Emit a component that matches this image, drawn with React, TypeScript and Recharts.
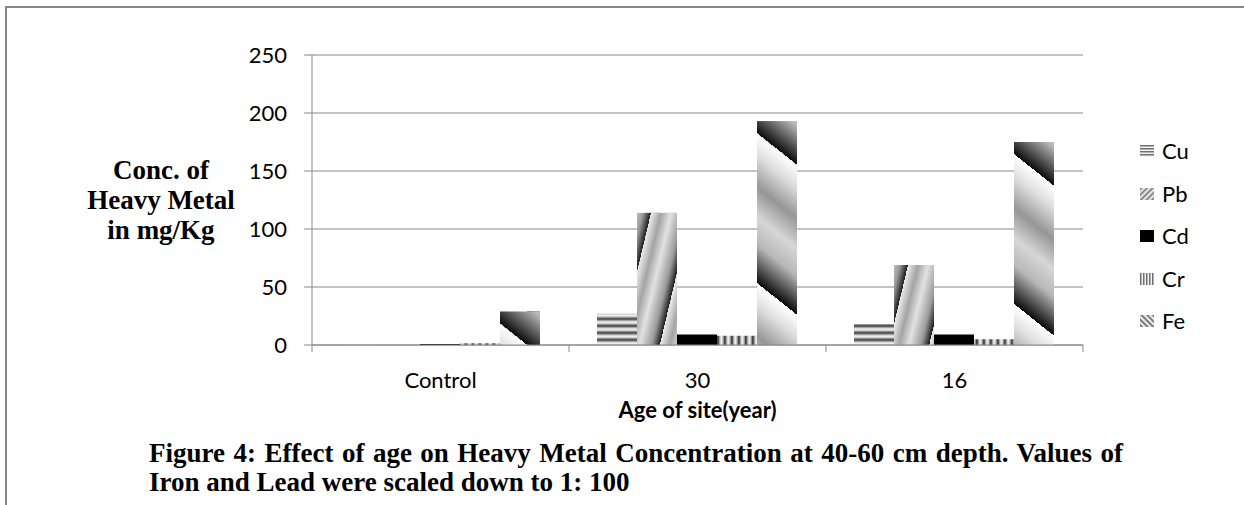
import React from 'react';
import { BarChart, Bar, XAxis, YAxis, CartesianGrid, Legend, Label } from 'recharts';

const ages = ['Control', '30', '16'];
const cuValues = [0.8, 27, 18];
const pbValues = [0, 114, 69];
const cdValues = [0.8, 9, 9];
const crValues = [1.5, 8, 5];
const feValues = [29, 193, 175];
const yTicks = [0, 50, 100, 150, 200, 250];

const metals = [
  { key: 'Cu', values: cuValues, fill: 'url(#cuFill)', icon: 'url(#cuIcon)' },
  { key: 'Pb', values: pbValues, fill: 'url(#pbFill)', icon: 'url(#pbIcon)' },
  { key: 'Cd', values: cdValues, fill: '#000000', icon: '#000000' },
  { key: 'Cr', values: crValues, fill: 'url(#crFill)', icon: 'url(#crIcon)' },
  { key: 'Fe', values: feValues, fill: 'url(#feFill)', icon: 'url(#feIcon)' },
];

const data = ages.map((age, i) => {
  const row: Record<string, string | number> = { age };
  metals.forEach((m) => {
    row[m.key] = m.values[i];
  });
  return row;
});

const axisGray = '#878787';
const sans = 'Lato, "Noto Sans", sans-serif';
const serif = '"Liberation Serif", "Times New Roman", serif';

// tick text in the middle of the band, tick mark on the band edges (Excel style)
const AgeTick = (props: any) => {
  const { x, y, payload, index } = props;
  const half = payload?.offset ?? 0;
  const last = index === ages.length - 1;
  return (
    <g>
      <line x1={x - half} y1={y} x2={x - half} y2={y + 7} stroke={axisGray} />
      {last && <line x1={x + half} y1={y} x2={x + half} y2={y + 7} stroke={axisGray} />}
      <text x={x} y={y + 27} dy="0.71em" textAnchor="middle" fontFamily={sans} fontSize={22} fill="#000">
        {payload.value}
      </text>
    </g>
  );
};

// keep series order (recharts sorts legend items by name otherwise)
const MetalLegend = ({ payload }: any) => {
  const items = payload || [];
  return (
    <div style={{ fontFamily: sans, fontSize: 22, color: '#000' }}>
      {metals.map((m) => {
        const entry = items.find((p: any) => p.value === m.key);
        if (!entry) return null;
        return (
          <div key={m.key} style={{ height: 42.5, display: 'flex', alignItems: 'center' }}>
            <svg width={14} height={12} style={{ display: 'block' }}>
              <rect width={14} height={12} fill={m.icon} />
            </svg>
            <span style={{ marginLeft: 8, lineHeight: '22px' }}>{entry.value}</span>
          </div>
        );
      })}
    </div>
  );
};

const YTitle = ({ viewBox }: any) => {
  const cx = viewBox.x - 91;
  return (
    <text textAnchor="middle" fontFamily={serif} fontWeight="bold" fontSize={27} fill="#000">
      <tspan x={cx} y={viewBox.y + 124}>Conc. of</tspan>
      <tspan x={cx} y={viewBox.y + 154}>Heavy Metal</tspan>
      <tspan x={cx} y={viewBox.y + 184}>in mg/Kg</tspan>
    </text>
  );
};

const XTitle = ({ viewBox }: any) => (
  <text
    x={viewBox.x + viewBox.width / 2}
    y={viewBox.y + 73}
    textAnchor="middle"
    fontFamily={sans}
    fontWeight="bold"
    fontSize={22}
    fill="#000"
  >
    Age of site(year)
  </text>
);

export default function App() {
  return (
    <div style={{ position: 'absolute', left: 0, top: 0, width: 1244, height: 505, overflow: 'hidden', background: '#fff' }}>
      <div
        style={{
          position: 'absolute',
          left: 5,
          top: 6,
          width: 1300,
          height: 600,
          borderLeft: `2px solid ${axisGray}`,
          borderTop: `2px solid ${axisGray}`,
        }}
      />
      <div style={{ position: 'absolute', left: 0, top: 0 }}>
        <BarChart
          width={1244}
          height={430}
          data={data}
          margin={{ top: 55, right: 161, bottom: 0, left: 252 }}
          barCategoryGap={28}
          barGap={0}
        >
          <defs>
            <linearGradient id="cuGrad" x1="0" y1="0" x2="0" y2="1">
              <stop offset="0" stopColor="#ffffff" />
              <stop offset="0.3" stopColor="#b4b4b4" />
              <stop offset="0.55" stopColor="#3a3a3a" />
              <stop offset="0.78" stopColor="#a0a0a0" />
              <stop offset="1" stopColor="#f2f2f2" />
            </linearGradient>
            <pattern id="cuFill" patternUnits="userSpaceOnUse" width="8" height="7">
              <rect width="8" height="7" fill="url(#cuGrad)" />
            </pattern>
            <linearGradient id="crGrad" x1="0" y1="0" x2="1" y2="0">
              <stop offset="0" stopColor="#ffffff" />
              <stop offset="0.3" stopColor="#b4b4b4" />
              <stop offset="0.55" stopColor="#2a2a2a" />
              <stop offset="0.78" stopColor="#a0a0a0" />
              <stop offset="1" stopColor="#f2f2f2" />
            </linearGradient>
            <pattern id="crFill" patternUnits="userSpaceOnUse" width="7" height="8">
              <rect width="7" height="8" fill="url(#crGrad)" />
            </pattern>
            <linearGradient id="pbGrad" gradientUnits="userSpaceOnUse" spreadMethod="repeat" x1="14" y1="0" x2="52" y2="9">
              <stop offset="0" stopColor="#ececec" />
              <stop offset="0.25" stopColor="#a4a4a4" />
              <stop offset="0.5" stopColor="#e2e2e2" />
              <stop offset="0.8" stopColor="#9a9a9a" />
              <stop offset="1" stopColor="#1c1c1c" />
            </linearGradient>
            <pattern id="pbFill" patternUnits="objectBoundingBox" x="0" y="0" width="1" height="1">
              <rect x="-10" y="-10" width="80" height="400" fill="url(#pbGrad)" />
            </pattern>
            <linearGradient id="feGrad" gradientUnits="userSpaceOnUse" spreadMethod="repeat" x1="0" y1="12" x2="-73" y2="104">
              <stop offset="0" stopColor="#ffffff" />
              <stop offset="0.15" stopColor="#dedede" />
              <stop offset="0.36" stopColor="#969696" />
              <stop offset="0.56" stopColor="#d6d6d6" />
              <stop offset="0.74" stopColor="#b8b8b8" />
              <stop offset="0.92" stopColor="#404040" />
              <stop offset="1" stopColor="#0a0a0a" />
            </linearGradient>
            <pattern id="feFill" patternUnits="objectBoundingBox" x="0" y="0" width="1" height="1">
              <rect x="-10" y="-10" width="80" height="400" fill="url(#feGrad)" />
            </pattern>
            <pattern id="cuIcon" patternUnits="userSpaceOnUse" width="4" height="3">
              <rect width="4" height="3" fill="#f4f4f4" />
              <rect width="4" height="1.5" fill="#6e6e6e" />
            </pattern>
            <pattern id="crIcon" patternUnits="userSpaceOnUse" width="3" height="4">
              <rect width="3" height="4" fill="#f4f4f4" />
              <rect width="1.5" height="4" fill="#6e6e6e" />
            </pattern>
            <pattern id="pbIcon" patternUnits="userSpaceOnUse" width="4" height="4" patternTransform="rotate(45)">
              <rect width="4" height="4" fill="#e4e4e4" />
              <rect width="2" height="4" fill="#8c8c8c" />
            </pattern>
            <pattern id="feIcon" patternUnits="userSpaceOnUse" width="4" height="4" patternTransform="rotate(-45)">
              <rect width="4" height="4" fill="#ececec" />
              <rect width="2" height="4" fill="#7c7c7c" />
            </pattern>
          </defs>
          <CartesianGrid vertical={false} stroke={axisGray} />
          <XAxis
            dataKey="age"
            height={85}
            axisLine={{ stroke: axisGray }}
            tickLine={false}
            tickSize={0}
            tickMargin={0}
            tick={<AgeTick />}
            interval={0}
          >
            <Label content={<XTitle />} />
          </XAxis>
          <YAxis
            width={60}
            domain={[0, 250]}
            ticks={yTicks}
            interval={0}
            axisLine={{ stroke: axisGray }}
            tickLine={{ stroke: axisGray }}
            tickSize={8}
            tickMargin={17}
            tick={{ fontFamily: sans, fontSize: 22, fill: '#000' }}
          >
            <Label content={<YTitle />} />
          </YAxis>
          <Legend
            layout="vertical"
            align="center"
            verticalAlign="middle"
            content={<MetalLegend />}
            wrapperStyle={{ left: 1140, top: 130, width: 90 }}
          />
          {metals.map((m) => (
            <Bar key={m.key} dataKey={m.key} name={m.key} fill={m.fill} isAnimationActive={false} />
          ))}
        </BarChart>
      </div>
      <div
        style={{
          position: 'absolute',
          left: 149,
          top: 439,
          width: 974,
          fontFamily: serif,
          fontWeight: 'bold',
          fontSize: 27,
          lineHeight: '29px',
          color: '#000',
        }}
      >
        <div style={{ textAlign: 'justify', textAlignLast: 'justify', whiteSpace: 'nowrap' }}>
          Figure 4: Effect of age on Heavy Metal Concentration at 40-60 cm depth. Values of
        </div>
        <div>Iron and Lead were scaled down to 1: 100</div>
      </div>
    </div>
  );
}
